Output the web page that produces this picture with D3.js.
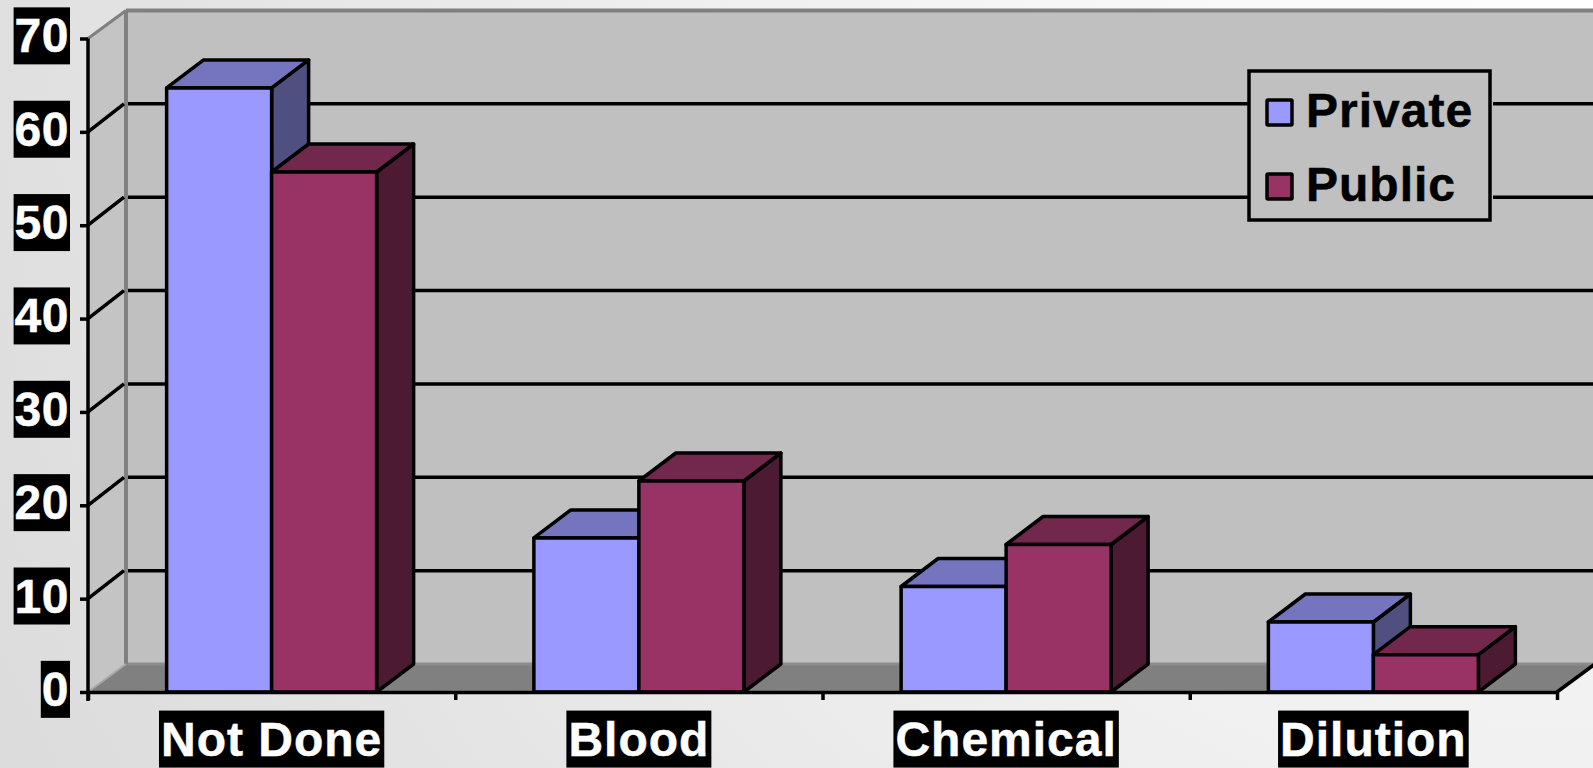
<!DOCTYPE html>
<html>
<head>
<meta charset="utf-8">
<script src="https://cdnjs.cloudflare.com/ajax/libs/d3/7.8.5/d3.min.js"></script>
<style>
  html, body { margin: 0; padding: 0; overflow: hidden; background: #e6e6e6; }
  svg { display: block; font-family: "Liberation Sans", Arial, sans-serif; }
  .label text { fill: #fff; stroke: #fff; stroke-width: 0.5; font-size: 48px; font-weight: 700; }
  .axis path, .axis line { stroke: #000; stroke-width: 3.5; }
</style>
</head>
<body>
<svg id="chart" width="1593" height="768"></svg>
<script>
// Values for the chart
const categories = ["Not Done", "Blood", "Chemical", "Dilution"];
const seriesNames = ["Private", "Public"];
const privateValues = [64.7, 16.5, 11.3, 7.5];
const publicValues = [55.7, 22.6, 15.8, 4];
const yTicks = [0, 10, 20, 30, 40, 50, 60, 70];

const colors = {
  Private: { front: "#9999ff", top: "#7575bf", side: "#4f4f80" },
  Public: { front: "#993366", top: "#72274c", side: "#4c1a33" }
};

const W = 1593, H = 768;
const plot = { left: 88, right: 1557, bottom: 692, top: 38.5 };
const depthX = 38, depthY = 28;      // wall and floor depth
const barDepthX = 37, barDepthY = 28; // bar depth
const groupWidth = 210;

const svg = d3.select("#chart");

// Page background: soft radial falloff from the top right corner
const defs = svg.append("defs");
const bg = defs.append("radialGradient").attr("id", "page")
  .attr("gradientUnits", "userSpaceOnUse")
  .attr("cx", 1593).attr("cy", -60).attr("r", 1750);
bg.append("stop").attr("offset", 0).attr("stop-color", "#ffffff");
bg.append("stop").attr("offset", 0.5).attr("stop-color", "#f0f0f0");
bg.append("stop").attr("offset", 1).attr("stop-color", "#dcdcdc");
svg.append("rect").attr("width", W).attr("height", H).attr("fill", "url(#page)");

const y = d3.scaleLinear().domain([0, 70]).range([plot.bottom, plot.top]);
const x = d3.scaleBand().domain(categories).range([plot.left, plot.right]);
const xEdges = d3.scaleLinear().domain([0, categories.length]).range([plot.left, plot.right]);
const inner = d3.scaleBand().domain(seriesNames).range([0, groupWidth]);
const groupOffset = (x.bandwidth() - groupWidth) / 2;

const poly = pts => pts.map(p => p.join(",")).join(" ");

// Back wall runs off the right edge of the page
svg.append("rect")
  .attr("x", plot.left + depthX).attr("y", y(70) - depthY)
  .attr("width", W).attr("height", y(0) - y(70))
  .attr("fill", "#c0c0c0");

// Side wall
svg.append("polygon")
  .attr("points", poly([
    [plot.left, y(70)], [plot.left + depthX, y(70) - depthY],
    [plot.left + depthX, y(0) - depthY], [plot.left, y(0)]
  ]))
  .attr("fill", "#c4c4c4");

// Floor
svg.append("polygon")
  .attr("points", poly([
    [plot.left, y(0)], [plot.right, y(0)],
    [plot.right + depthX, y(0) - depthY], [plot.left + depthX, y(0) - depthY]
  ]))
  .attr("fill", "#808080");
svg.append("line")
  .attr("x1", plot.left + depthX).attr("x2", W)
  .attr("y1", y(0) - depthY).attr("y2", y(0) - depthY)
  .attr("stroke", "#8c8c8c").attr("stroke-width", 3);

// Wall outlines
const wallEdges = svg.append("g").attr("stroke", "#808080").attr("fill", "none");
wallEdges.append("line").attr("stroke-width", 4)
  .attr("x1", plot.left + depthX).attr("x2", W)
  .attr("y1", y(70) - depthY).attr("y2", y(70) - depthY);
wallEdges.append("line").attr("stroke-width", 4)
  .attr("x1", plot.left + depthX).attr("x2", plot.left + depthX)
  .attr("y1", y(70) - depthY).attr("y2", y(0) - depthY);
wallEdges.append("line").attr("stroke-width", 3)
  .attr("x1", plot.left).attr("x2", plot.left + depthX)
  .attr("y1", y(70)).attr("y2", y(70) - depthY);
wallEdges.append("line").attr("stroke-width", 2).attr("stroke", "#a8a8a8")
  .attr("x1", plot.left).attr("x2", plot.left + depthX)
  .attr("y1", y(0)).attr("y2", y(0) - depthY);

// Gridlines across the side wall and back wall
const gridValues = yTicks.filter(v => v > 0 && v < 70);
const grid = svg.append("g").attr("stroke", "#000").attr("stroke-width", 3.5).attr("fill", "none");
grid.selectAll("path").data(gridValues).join("path")
  .attr("d", v => {
    const path = d3.path();
    path.moveTo(plot.left, y(v));
    path.lineTo(plot.left + depthX - 2, y(v) - depthY);
    path.moveTo(plot.left + depthX + 2, y(v) - depthY);
    path.lineTo(W, y(v) - depthY);
    return path.toString();
  });

// Right end of the floor
svg.append("line")
  .attr("x1", plot.right).attr("y1", y(0))
  .attr("x2", plot.right + depthX).attr("y2", y(0) - depthY)
  .attr("stroke", "#000").attr("stroke-width", 3.5);

// Legend panel covers the gridlines behind it
const legend = svg.append("g");
legend.append("rect")
  .attr("x", 1249).attr("y", 71).attr("width", 244).attr("height", 149)
  .attr("fill", "#c0c0c0");
legend.append("rect")
  .attr("x", 1249).attr("y", 71).attr("width", 241).attr("height", 149)
  .attr("fill", "#c0c0c0").attr("stroke", "#000").attr("stroke-width", 3.5);
const legendRows = legend.selectAll("g").data(seriesNames).join("g")
  .attr("transform", (d, i) => `translate(0,${i * 74})`);
legendRows.append("rect")
  .attr("x", 1267).attr("y", 100).attr("width", 25).attr("height", 25).attr("rx", 1)
  .attr("fill", d => colors[d].front).attr("stroke", "#000").attr("stroke-width", 3.5);
legendRows.append("text")
  .attr("x", 1306).attr("y", 127)
  .attr("font-size", 48).attr("font-weight", 700).attr("letter-spacing", 1)
  .attr("fill", "#000").attr("stroke", "#000").attr("stroke-width", 0.5)
  .text(d => d);

// Bars, drawn back to front within each group
const rows = categories.flatMap((c, i) => [
  { category: c, series: "Private", value: privateValues[i] },
  { category: c, series: "Public", value: publicValues[i] }
]);
const bars = svg.append("g").attr("stroke", "#000").attr("stroke-width", 3.5).attr("stroke-linejoin", "round");
const bar = bars.selectAll("g").data(rows).join("g");
const bx0 = d => x(d.category) + groupOffset + inner(d.series);
const bx1 = d => bx0(d) + inner.bandwidth();

bar.append("polygon") // side face
  .attr("fill", d => colors[d.series].side)
  .attr("points", d => poly([
    [bx1(d), y(d.value)], [bx1(d) + barDepthX, y(d.value) - barDepthY],
    [bx1(d) + barDepthX, y(0) - barDepthY], [bx1(d), y(0)]
  ]));
bar.append("polygon") // top face
  .attr("fill", d => colors[d.series].top)
  .attr("points", d => poly([
    [bx0(d), y(d.value)], [bx1(d), y(d.value)],
    [bx1(d) + barDepthX, y(d.value) - barDepthY], [bx0(d) + barDepthX, y(d.value) - barDepthY]
  ]));
bar.append("rect") // front face
  .attr("fill", d => colors[d.series].front)
  .attr("x", bx0).attr("y", d => y(d.value))
  .attr("width", inner.bandwidth()).attr("height", d => y(0) - y(d.value));

// Axes
const yAxis = svg.append("g").attr("class", "axis label")
  .attr("transform", `translate(${plot.left},0)`)
  .call(d3.axisLeft(y).tickValues(yTicks).tickSize(8).tickPadding(11).tickSizeOuter(0));
yAxis.select(".domain").attr("d", `M0,${plot.top}V${plot.bottom + 9}`);
yAxis.selectAll(".tick text").attr("y", -2).attr("letter-spacing", 0.5);

svg.append("g").attr("class", "axis")
  .attr("transform", `translate(0,${plot.bottom})`)
  .call(d3.axisBottom(xEdges).tickValues(d3.range(categories.length + 1)).tickFormat("").tickSize(8).tickSizeOuter(0));

const xAxis = svg.append("g").attr("class", "axis label")
  .attr("transform", `translate(0,${plot.bottom})`)
  .call(d3.axisBottom(x).tickSize(0).tickPadding(29.5));
xAxis.select(".domain").remove();
xAxis.selectAll(".tick text").attr("letter-spacing", 1);

// Labels carry a black plate behind the white text
svg.selectAll(".label .tick text").each(function () {
  const box = this.getBBox();
  const pad = categories.includes(this.textContent) ? 2 : 1;
  d3.select(this.parentNode).insert("rect", "text")
    .attr("x", box.x - pad).attr("y", box.y + box.height / 2 - 28.5)
    .attr("width", box.width + pad * 2).attr("height", 57)
    .attr("fill", "#000")
    .attr("stroke", "none");
});
</script>
</body>
</html>
